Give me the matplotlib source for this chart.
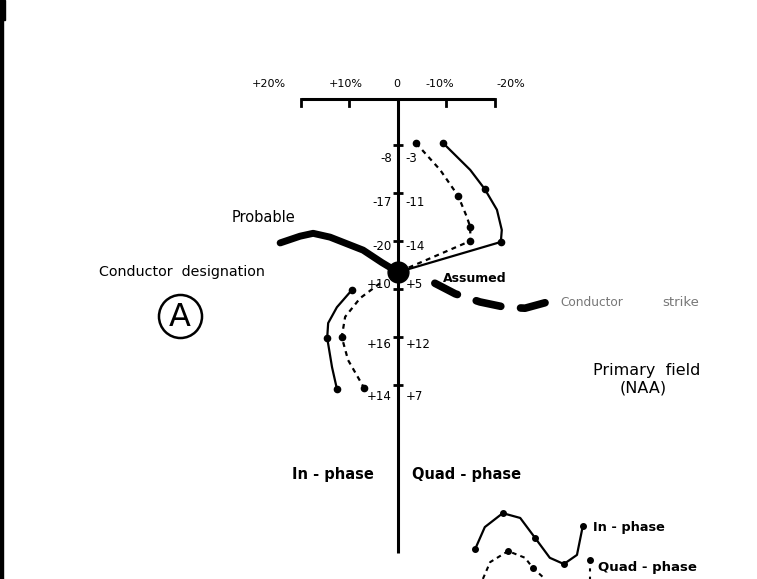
import matplotlib
matplotlib.use("Agg")
import matplotlib.pyplot as plt
from matplotlib.patches import Rectangle

# ---------------- data ----------------
scale_ticks = [20, 10, 0, -10, -20]
scale_labels = ["+20%", "+10%", "0", "-10%", "-20%"]

stations = [1, 2, 3, 4, 5, 6]
inphase_labels = ["-8", "-17", "-20", "+10", "+16", "+14"]
quad_labels = ["-3", "-11", "-14", "+5", "+12", "+7"]

crossover_station = 3.65
crossover_value = 0.0

# profiles (percent, station position)
upper_inphase_x = [-9.3, -14.9, -17.9, -20.4, -21.4, -21.2]
upper_inphase_s = [0.96, 1.52, 1.92, 2.35, 2.77, 3.02]
upper_inphase_dots = [0, 2, 5]

upper_quad_x = [-3.7, -8.7, -12.4, -14.2, -14.9, -14.9]
upper_quad_s = [0.96, 1.52, 2.06, 2.50, 2.71, 3.00]
upper_quad_dots = [0, 2, 4, 5]

lower_inphase_x = [9.5, 12.6, 14.4, 14.6, 13.6, 12.6]
lower_inphase_s = [4.02, 4.38, 4.71, 5.02, 5.63, 6.08]
lower_inphase_dots = [0, 3, 5]

lower_quad_x = [3.7, 7.8, 10.9, 11.6, 10.3, 7.0]
lower_quad_s = [3.88, 4.19, 4.58, 5.00, 5.48, 6.06]
lower_quad_dots = [3, 5]

probable_x = [24.3, 20.2, 17.5, 14.0, 7.2, 3.3, 0.0]
probable_s = [3.04, 2.90, 2.84, 2.92, 3.19, 3.45, 3.65]

assumed_x = [-7.6, -11.8, -16.9, -22.1, -26.2, -32.0]
assumed_s = [3.88, 4.10, 4.27, 4.38, 4.40, 4.24]

legend_inphase_x = [-15.9, -17.9, -21.6, -25.2, -28.3, -31.3, -34.2, -36.9, -38.1]
legend_inphase_s = [9.42, 8.96, 8.67, 8.77, 9.19, 9.60, 9.73, 9.54, 8.94]
legend_inphase_dots = [0, 2, 4, 6, 8]

legend_quad_x = [-17.5, -19.0, -22.7, -26.2, -27.8, -30.3]
legend_quad_s = [10.04, 9.69, 9.46, 9.60, 9.81, 10.04]
legend_quad_dots = [2, 4]

# ---------------- layout helpers ----------------
W, H = 757, 579
X0, PX_PER_PCT = 398.0, 4.85
Y0, PX_PER_ST = 145.0, 48.0
label_dy_px = [13, 9, 5, -4, 8, 12]


def P(x, y):
    """figure pixel -> data coords"""
    return ((X0 - x) / PX_PER_PCT, 1 + (y - Y0) / PX_PER_ST)


fig = plt.figure(figsize=(W / 100, H / 100), dpi=100)
ax = fig.add_axes([0, 0, 1, 1])
xl, yt = P(0, 0)
xr, yb = P(W, H)
ax.set_xlim(xl, xr)
ax.set_ylim(yb, yt)
ax.axis("off")

K = "black"
FONT = "DejaVu Sans"
DASH = (0, (2.2, 2.0))

# scan border on the left
fig.patches.append(Rectangle((0, 0), 3 / W, 1, transform=fig.transFigure, color=K, zorder=10))
fig.patches.append(Rectangle((0, 1 - 20 / H), 5 / W, 20 / H, transform=fig.transFigure, color=K, zorder=10))

# top scale
s_top = P(0, 99)[1]
ax.plot([scale_ticks[0], scale_ticks[-1]], [s_top, s_top], color=K, lw=2.2, solid_capstyle="butt")
for t in scale_ticks:
    ax.plot([t, t], [s_top, s_top + 0.15], color=K, lw=2.0)
label_px = [269, 346, 397, 440, 511]
for lx, lab in zip(label_px, scale_labels):
    ax.text(P(lx, 0)[0], P(0, 84)[1], lab, ha="center", va="center", fontsize=8, family=FONT)

# vertical axis
ax.plot([0, 0], [s_top, P(0, 553)[1]], color=K, lw=2.2, solid_capstyle="butt")
ax.plot([0] * len(stations), stations, ls="none", marker="_", ms=7, mew=2, color=K)
for s, a, b, dy in zip(stations, inphase_labels, quad_labels, label_dy_px):
    ax.text(1.3, s + dy / PX_PER_ST, a, ha="right", va="center", fontsize=8.5, family=FONT)
    ax.text(-1.6, s + dy / PX_PER_ST, b, ha="left", va="center", fontsize=8.5, family=FONT)


def dots(xs, ss, idx, ms=4.5):
    ax.plot([xs[i] for i in idx], [ss[i] for i in idx], ls="none", marker="o", ms=ms, color=K)


# profiles
ax.plot(upper_inphase_x + [crossover_value], upper_inphase_s + [crossover_station], color=K, lw=1.6)
dots(upper_inphase_x, upper_inphase_s, upper_inphase_dots)
ax.plot(upper_quad_x + [crossover_value], upper_quad_s + [crossover_station], color=K, lw=1.6, ls=DASH)
dots(upper_quad_x, upper_quad_s, upper_quad_dots)

ax.plot(lower_inphase_x, lower_inphase_s, color=K, lw=1.6)
dots(lower_inphase_x, lower_inphase_s, lower_inphase_dots)
ax.plot(lower_quad_x, lower_quad_s, color=K, lw=1.6, ls=DASH)
dots(lower_quad_x, lower_quad_s, lower_quad_dots)

# conductor lines
ax.plot(probable_x, probable_s, color=K, lw=5, solid_capstyle="round", solid_joinstyle="round")
ax.plot(assumed_x, assumed_s, color=K, lw=5.5, ls=(0, (3.3, 2.6)), dash_capstyle="round")
ax.plot([crossover_value], [crossover_station], marker="o", ms=15, color=K, zorder=5)


# texts
def T(x, y, s, **kw):
    kw.setdefault("family", FONT)
    ax.text(*P(x, y), s, **kw)


T(232, 218, "Probable", ha="left", va="center", fontsize=10.5)
T(99, 272, "Conductor  designation", ha="left", va="center", fontsize=10.3)
T(443, 278, "Assumed", ha="left", va="center", fontsize=9, weight="bold")
T(560, 302, "Conductor", ha="left", va="center", fontsize=8.7, color="#777777")
T(662, 302, "strike", ha="left", va="center", fontsize=9.5, color="#777777")
T(647, 370, "Primary  field", ha="center", va="center", fontsize=11.5)
T(643, 388, "(NAA)", ha="center", va="center", fontsize=11.5)
T(292, 474, "In - phase", ha="left", va="center", fontsize=10.5, weight="bold")
T(412, 474, "Quad - phase", ha="left", va="center", fontsize=10.5, weight="bold")

# conductor designation symbol
cx, cy = P(180, 316)
ax.plot([cx], [cy], marker="o", ms=31, mfc="none", mec=K, mew=1.8)
T(180, 317, "A", ha="center", va="center", fontsize=23)

# legend sketch
ax.plot(legend_inphase_x, legend_inphase_s, color=K, lw=1.6)
dots(legend_inphase_x, legend_inphase_s, legend_inphase_dots, ms=4)
ax.plot(legend_quad_x, legend_quad_s, color=K, lw=1.5, ls=DASH)
dots(legend_quad_x, legend_quad_s, legend_quad_dots, ms=4)
qx = P(590, 0)[0]
ax.plot([qx, qx], [P(0, 560)[1], P(0, 580)[1]], color=K, lw=1.5, ls=(0, (1.5, 2.5)))
ax.plot([qx], [P(0, 560)[1]], marker="o", ms=4, color=K)
T(593, 527, "In - phase", ha="left", va="center", fontsize=9.3, weight="bold")
T(598, 567, "Quad - phase", ha="left", va="center", fontsize=9.5, weight="bold")

fig.savefig("out.png", dpi=100)
